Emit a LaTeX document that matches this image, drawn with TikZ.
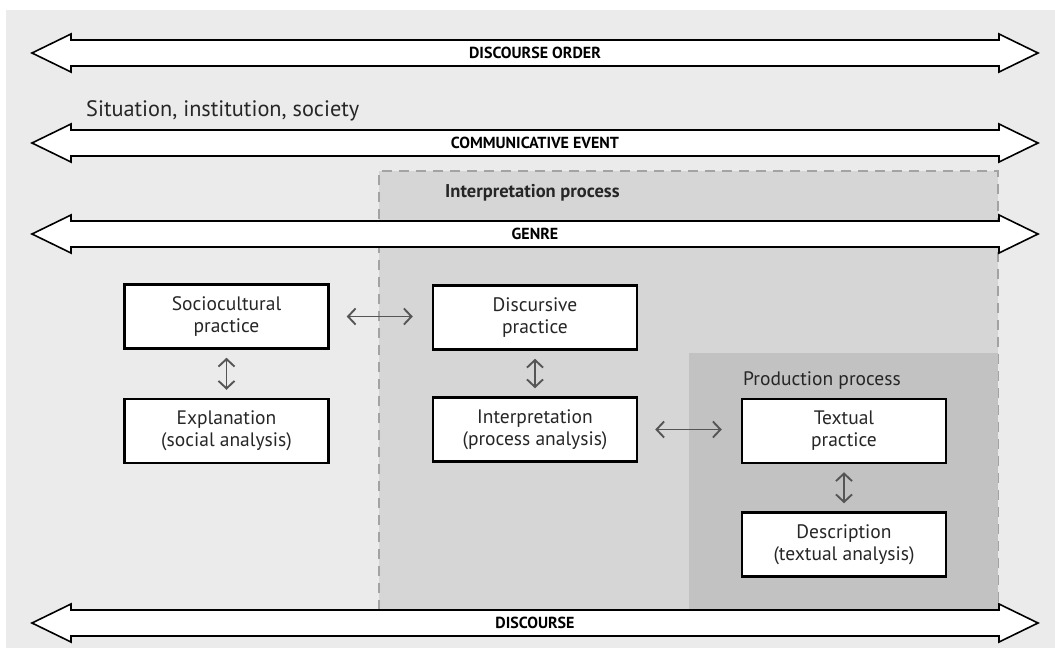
\documentclass[tikz,border=0pt]{standalone}
\usepackage{fontspec}
\setmainfont{PT Sans}
\usetikzlibrary{arrows.meta,positioning}
\definecolor{bggray}{HTML}{EBEBEB}
\definecolor{interpgray}{HTML}{D6D6D6}
\definecolor{prodgray}{HTML}{C2C2C2}
\definecolor{dashgray}{HTML}{A3A3A3}
\definecolor{textgray}{HTML}{262626}
\definecolor{linkgray}{HTML}{555555}

\begin{document}
\begin{tikzpicture}[
            x=1pt, y=-1pt,
            every node/.style={text=textgray},
            box/.style={draw=black, line width=2.5pt, fill=white, minimum width=204pt, minimum height=64pt, align=center, font=\fontsize{19.5}{22}\selectfont},
            hlink/.style={{Straight Barb[length=7.5pt,width=16pt]}-{Straight Barb[length=7.5pt,width=16pt]}, linkgray, line width=1.9pt, shorten <=17pt, shorten >=19pt},
            vlink/.style={{Straight Barb[length=7.5pt,width=16pt]}-{Straight Barb[length=7.5pt,width=16pt]}, linkgray, line width=1.9pt, shorten <=8pt, shorten >=8pt},
            bigarrow/.style={draw=black, line width=1.6pt, fill=white, line join=miter},
            barlabel/.style={font=\bfseries\fontsize{16}{18}\selectfont, text=black},
            arealabel/.style={anchor=base west, inner sep=0pt},
        ]
            \useasboundingbox (0,0) rectangle (1055,659);
            % background and process areas
            \fill[bggray] (6,10) rectangle (1055,648);
            \fill[interpgray] (379,171) rectangle (998,610);
            \draw[dashgray, line width=2pt, dash pattern=on 10pt off 7pt] (379,610) -- (379,171) -- (998,171) -- (998,610);
            \fill[prodgray] (689,353) rectangle (998,610);

            \node[arealabel, font=\fontsize{22.3}{26}\selectfont] (setting) at (86,116) {Situation, institution, society};
            \node[arealabel, font=\bfseries\fontsize{18.5}{20}\selectfont] (interplabel) at (445,197) {Interpretation process};
            \node[arealabel, font=\fontsize{19.5}{22}\selectfont] (prodlabel) at (743,385) {Production process};

            % wide double arrows
            \foreach \yy/\name/\txt in {53/order/DISCOURSE ORDER, 143/event/COMMUNICATIVE EVENT, 234/genre/GENRE, 623/discourse/DISCOURSE} {
                \draw[bigarrow] (32,\yy) -- (71,\yy-19) -- (71,\yy-13) -- (999,\yy-13) -- (999,\yy-19)
                    -- (1038,\yy) -- (999,\yy+19) -- (999,\yy+13) -- (71,\yy+13) -- (71,\yy+19) -- cycle;
                \node[barlabel] (\name) at (535,\yy) {\txt};
            }

            \node[box] (socio) at (226.5,316.5) {Sociocultural\\practice};
            \node[box] (explan) at (226.5,431) {Explanation\\(social analysis)};
            \node[box] (discur) at (535,317.5) {Discursive\\practice};
            \node[box] (interp) at (535,429.5) {Interpretation\\(process analysis)};
            \node[box] (textual) at (844,431) {Textual\\practice};
            \node[box] (descr) at (844,544.5) {Description\\(textual analysis)};

            \draw[hlink] (socio.east) -- (socio.east -| discur.west);
            \draw[vlink] (socio) -- (explan);
            \draw[vlink] (discur) -- (interp);
            \draw[hlink] (interp.east) -- (interp.east -| textual.west);
            \draw[vlink] (textual) -- (descr);
        \end{tikzpicture}
\end{document}
